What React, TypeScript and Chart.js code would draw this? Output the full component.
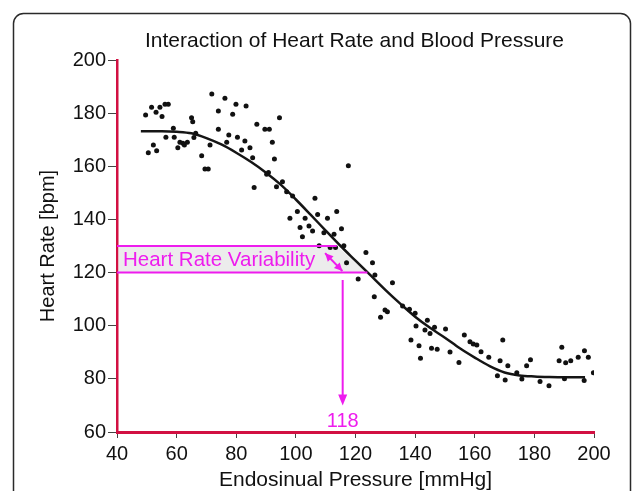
import React, { useEffect, useRef } from 'react';
import { Chart, registerables } from 'chart.js';

Chart.register(...registerables);

// ---- Data ----
const scatterPressure = [
  49.6, 51.6, 53.1, 54.4, 55.1, 56.1, 57.2,
  52.2, 50.5, 53.3, 56.4, 59.2, 58.9,
  60.4, 61.1, 62.1, 62.6, 63.6,
  65.0, 65.4, 66.4, 65.8,
  71.2, 68.4, 69.5, 70.6,
  71.8, 76.2, 74.0, 74.0, 79.9, 78.8, 83.3,
  77.5, 76.8, 80.4, 82.9, 81.8, 84.6, 85.5,
  86.9, 89.6, 91.1, 94.5, 92.1, 92.8,
  90.8, 90.2, 95.5, 86.0, 96.9, 93.5, 98.9,
  117.6, 106.4, 100.5, 98.0, 103.1, 107.3, 113.7, 110.6, 101.4, 104.4,
  105.6, 102.2, 109.4, 115.3, 112.8, 116.1, 107.8, 111.5, 113.3, 123.5,
  117.0, 125.7, 120.9, 126.5, 132.4, 126.3, 129.9, 130.7, 128.4, 135.8,
  138.1, 140.0, 144.1, 140.3, 143.3, 146.5, 145.0, 150.2, 138.6, 141.3,
  145.5, 147.4, 141.8, 151.7,
  156.5, 158.4, 159.5, 160.7, 154.7, 162.1, 164.7, 169.4, 168.5, 171.1,
  167.6, 170.2, 174.1, 175.8, 177.4, 178.7, 181.9, 184.9, 190.1, 189.2,
  188.3, 190.5, 192.2, 194.7, 196.8, 198.1, 196.7, 199.8,
];
const scatterHeartRate = [
  179.3, 182.2, 180.3, 182.2, 178.7, 183.3, 183.3,
  168.0, 165.1, 165.8, 170.9, 170.9, 174.3,
  167.0, 169.0, 168.7, 168.0, 169.0,
  178.3, 176.8, 172.4, 170.8,
  168.0, 164.0, 159.0, 159.0,
  187.2, 185.6, 180.8, 173.9, 183.3, 179.6, 182.7,
  171.8, 169.0, 170.9, 169.5, 166.1, 167.0, 163.2,
  175.8, 173.9, 173.9, 178.3, 169.0, 162.7,
  157.7, 157.0, 154.2, 152.0, 150.4, 152.3, 148.8,
  160.2, 148.0, 143.0, 140.4, 140.4, 141.9, 143.0, 140.4, 137.0, 137.5,
  135.6, 133.5, 135.0, 136.5, 134.4, 130.1, 130.1, 129.4, 129.4, 127.6,
  123.7, 123.7, 117.6, 119.1, 116.2, 110.9, 105.9, 105.3, 103.2, 107.4,
  106.2, 104.7, 102.1, 99.9, 98.4, 99.4, 97.1, 98.8, 94.6, 92.5,
  91.5, 91.1, 87.8, 90.1,
  96.5, 94.0, 93.1, 92.7, 86.2, 90.2, 88.1, 94.6, 86.8, 84.9,
  81.2, 79.6, 82.3, 79.9, 84.9, 87.2, 79.0, 77.4, 80.0, 91.9,
  86.8, 86.1, 86.8, 88.1, 90.6, 88.1, 79.4, 82.3,
];
const fitPressure = [48, 55, 60, 65, 70, 75, 80, 85, 90, 95, 100, 105, 110, 115, 120, 125, 130, 135, 140, 145, 150, 155, 160, 165, 170, 175, 180, 185, 190, 197];
const fitHeartRate = [173.2, 173.2, 173.0, 172.4, 170.6, 168.2, 165.1, 161.6, 157.6, 153.0, 147.5, 141.7, 135.8, 130.0, 124.5, 119.0, 113.5, 108.3, 103.4, 99.2, 95.5, 91.5, 88.0, 84.8, 82.4, 81.3, 80.9, 80.7, 80.6, 80.6];

const xTickValues = [40, 60, 80, 100, 120, 140, 160, 180, 200];
const yTickValues = [60, 80, 100, 120, 140, 160, 180, 200];

const chartTitle = 'Interaction of Heart Rate and Blood Pressure';
const xTitle = 'Endosinual Pressure [mmHg]';
const yTitle = 'Heart Rate [bpm]';

// Annotation values
const hrvUpper = 130;
const hrvLower = 120;
const hrvUpperEnd = 113.7;
const hrvLowerEnd = 124;
const hrvLabel = 'Heart Rate Variability';
const dblArrowFrom = [109.8, 127.3];
const dblArrowTo = [115.6, 120.6];
const arrowPressure = 115.7;
const arrowTop = 117.2;
const arrowBottom = 70;
const thresholdLabel = '118';
const thresholdLabelY = 62;

const MAGENTA = '#ee1cee';
const AXIS_RED = 'rgb(210,16,66)';
const FONT = '"Liberation Sans", Arial, Helvetica, sans-serif';

function headAt(ctx: CanvasRenderingContext2D, tipX: number, tipY: number, fromX: number, fromY: number, len: number, half: number) {
  const a = Math.atan2(tipY - fromY, tipX - fromX);
  const bx = tipX - Math.cos(a) * len;
  const by = tipY - Math.sin(a) * len;
  ctx.beginPath();
  ctx.moveTo(tipX, tipY);
  ctx.lineTo(bx + Math.sin(a) * half, by - Math.cos(a) * half);
  ctx.lineTo(bx - Math.sin(a) * half, by + Math.cos(a) * half);
  ctx.closePath();
  ctx.fill();
}

const decorPlugin = {
  id: 'decor',
  beforeDraw(chart: any) {
    const { ctx, chartArea } = chart;
    ctx.save();
    ctx.fillStyle = '#ffffff';
    ctx.fillRect(0, 0, chart.width, chart.height);
    ctx.strokeStyle = '#2a2a2a';
    ctx.lineWidth = 1.5;
    ctx.beginPath();
    (ctx as any).roundRect(13.5, 13.5, 617, 540, 10);
    ctx.stroke();
    ctx.fillStyle = '#111';
    ctx.font = `21px ${FONT}`;
    ctx.textAlign = 'center';
    ctx.textBaseline = 'alphabetic';
    ctx.fillText(chartTitle, (chartArea.left + chartArea.right) / 2 - 1, 47);
    ctx.restore();
  },
  beforeDatasetsDraw(chart: any) {
    const { ctx, chartArea, scales } = chart;
    const x = scales.x, y = scales.y;
    ctx.save();
    ctx.fillStyle = '#ececec';
    ctx.beginPath();
    ctx.moveTo(chartArea.left + 1.5, y.getPixelForValue(hrvUpper));
    ctx.lineTo(x.getPixelForValue(hrvUpperEnd), y.getPixelForValue(hrvUpper));
    ctx.lineTo(x.getPixelForValue(hrvLowerEnd), y.getPixelForValue(hrvLower));
    ctx.lineTo(chartArea.left + 1.5, y.getPixelForValue(hrvLower));
    ctx.closePath();
    ctx.fill();
    ctx.restore();
  },
  afterDatasetsDraw(chart: any) {
    const { ctx, chartArea, scales } = chart;
    const x = scales.x, y = scales.y;
    ctx.save();
    ctx.strokeStyle = MAGENTA;
    ctx.fillStyle = MAGENTA;
    ctx.lineWidth = 2;
    // band lines
    ctx.beginPath();
    ctx.moveTo(chartArea.left, y.getPixelForValue(hrvUpper));
    ctx.lineTo(x.getPixelForValue(hrvUpperEnd), y.getPixelForValue(hrvUpper));
    ctx.moveTo(chartArea.left, y.getPixelForValue(hrvLower));
    ctx.lineTo(x.getPixelForValue(hrvLowerEnd), y.getPixelForValue(hrvLower));
    ctx.stroke();
    // label
    ctx.font = `20.5px ${FONT}`;
    ctx.textAlign = 'left';
    ctx.textBaseline = 'alphabetic';
    ctx.fillText(hrvLabel, chartArea.left + 6, y.getPixelForValue(122.6));
    // double arrow
    const ax1 = x.getPixelForValue(dblArrowFrom[0]), ay1 = y.getPixelForValue(dblArrowFrom[1]);
    const ax2 = x.getPixelForValue(dblArrowTo[0]), ay2 = y.getPixelForValue(dblArrowTo[1]);
    ctx.beginPath();
    ctx.moveTo(ax1, ay1);
    ctx.lineTo(ax2, ay2);
    ctx.stroke();
    headAt(ctx, ax1, ay1, ax2, ay2, 8, 4);
    headAt(ctx, ax2, ay2, ax1, ay1, 8, 4);
    // vertical arrow
    const vx = x.getPixelForValue(arrowPressure);
    const vTop = y.getPixelForValue(arrowTop);
    const vBot = y.getPixelForValue(arrowBottom);
    ctx.beginPath();
    ctx.moveTo(vx, vTop);
    ctx.lineTo(vx, vBot - 8);
    ctx.stroke();
    headAt(ctx, vx, vBot, vx, vTop, 11, 4.5);
    ctx.font = `20px ${FONT}`;
    ctx.textAlign = 'center';
    ctx.fillText(thresholdLabel, vx, y.getPixelForValue(thresholdLabelY));
    ctx.restore();
  },
};

export default function App() {
  const ref = useRef<HTMLCanvasElement | null>(null);
  useEffect(() => {
    if (!ref.current) return;
    const scatterPts = scatterPressure.map((p, i) => ({ x: p, y: scatterHeartRate[i] }));
    const fitPts = fitPressure.map((p, i) => ({ x: p, y: fitHeartRate[i] }));
    const chart = new Chart(ref.current, {
      type: 'scatter',
      data: {
        datasets: [
          {
            label: 'Measurements',
            data: scatterPts,
            backgroundColor: '#111',
            borderColor: '#111',
            pointRadius: 2.5,
            pointBorderWidth: 0,
          },
          {
            label: 'Fit',
            type: 'line',
            data: fitPts,
            borderColor: '#151515',
            borderWidth: 2.5,
            pointRadius: 0,
            fill: false,
            cubicInterpolationMode: 'monotone',
          } as any,
        ],
      },
      options: {
        animation: false,
        responsive: false,
        devicePixelRatio: 1,
        layout: { padding: { top: 60, right: 38, left: 0, bottom: 0 } },
        plugins: {
          legend: { display: false },
          tooltip: { enabled: false },
          title: { display: false },
        },
        scales: {
          x: {
            type: 'linear',
            min: xTickValues[0],
            max: xTickValues[xTickValues.length - 1],
            afterBuildTicks: (s: any) => { s.ticks = xTickValues.map((v) => ({ value: v })); },
            afterFit: (s: any) => { s.height = 59; },
            border: { display: true, color: AXIS_RED, width: 3 },
            grid: { drawOnChartArea: false, drawTicks: true, tickLength: 6, tickColor: '#444', lineWidth: 1 },
            ticks: { color: '#111', font: { family: FONT, size: 20 }, padding: 4, maxRotation: 0 },
            title: { display: true, text: xTitle, color: '#111', font: { family: FONT, size: 21 }, padding: { top: 0, bottom: -2 } },
          },
          y: {
            type: 'linear',
            min: yTickValues[0],
            max: yTickValues[yTickValues.length - 1],
            afterBuildTicks: (s: any) => { s.ticks = yTickValues.map((v) => ({ value: v })); },
            afterFit: (s: any) => { s.width = 117; },
            border: { display: true, color: AXIS_RED, width: 2.5 },
            grid: { drawOnChartArea: false, drawTicks: true, tickLength: 9, tickColor: '#444', lineWidth: 1 },
            ticks: { color: '#111', font: { family: FONT, size: 20 }, padding: 2 },
            title: { display: true, text: yTitle, color: '#111', font: { family: FONT, size: 20 }, padding: { top: 36, bottom: 0 } },
          },
        },
      },
      plugins: [decorPlugin],
    });
    return () => chart.destroy();
  }, []);
  return (
    <div style={{ position: 'absolute', left: 0, top: 0, width: 632, height: 491, background: '#fff' }}>
      <canvas ref={ref} width={632} height={491} style={{ display: 'block', width: 632, height: 491 }} />
    </div>
  );
}
